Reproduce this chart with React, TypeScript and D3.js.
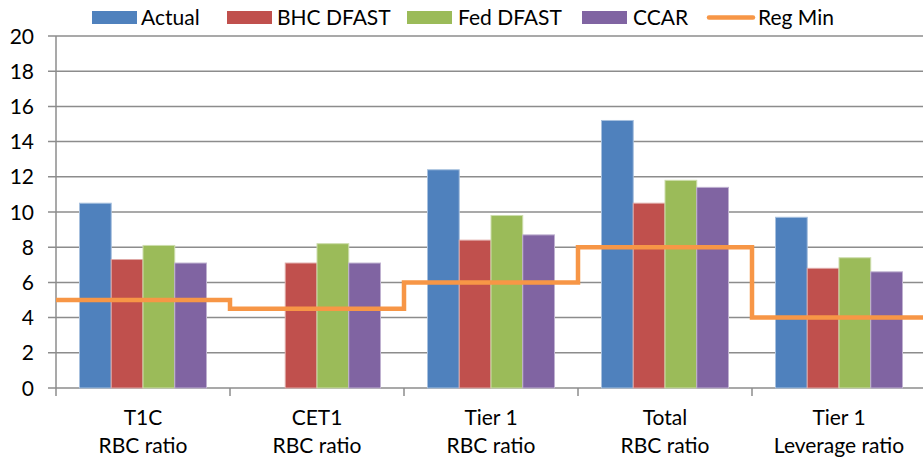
import React from "react";
import * as d3 from "d3";

const categories = ["T1C|RBC ratio", "CET1|RBC ratio", "Tier 1|RBC ratio", "Total|RBC ratio", "Tier 1|Leverage ratio"];
const seriesNames = ["Actual", "BHC DFAST", "Fed DFAST", "CCAR"];
const actual = [10.5, null, 12.4, 15.2, 9.7];
const bhcDfast = [7.3, 7.1, 8.4, 10.5, 6.8];
const fedDfast = [8.1, 8.2, 9.8, 11.8, 7.4];
const ccar = [7.1, 7.1, 8.7, 11.4, 6.6];
const regMin = [5, 4.5, 6, 8, 4];
const yTicks = [0, 2, 4, 6, 8, 10, 12, 14, 16, 18, 20];

const colors = ["#4F81BD", "#C0504D", "#9BBB59", "#8064A2"];
const strokes = ["#A7C0DE", "#DFA8A6", "#CDDDAC", "#BFB1D0"];
const lineColor = "#F79646";
const FONT = "Lato, 'Open Sans', sans-serif";

export default function App() {
  const W = 923, H = 459;
  const left = 56, right = 926, top = 36, bottom = 388;
  const x = d3.scaleBand<string>().domain(categories).range([left, right]).padding(0);
  const inner = d3.scaleBand<string>().domain(seriesNames).range([0, x.bandwidth()]).paddingInner(0).paddingOuter(0.74);
  const y = d3.scaleLinear().domain([0, 20]).range([bottom, top]);
  const data = [actual, bhcDfast, fedDfast, ccar];

  const linePts: [number, number][] = categories.map((c, i) => [x(c)!, y(regMin[i])]);
  linePts.push([right, y(regMin[regMin.length - 1])]);
  const line = d3.line().curve(d3.curveStepAfter)(linePts) || "";

  const legendItems = [
    { name: "Actual", rx: 92, tx: 141, type: "rect", color: colors[0] },
    { name: "BHC DFAST", rx: 227, tx: 277, type: "rect", color: colors[1] },
    { name: "Fed DFAST", rx: 407, tx: 458, type: "rect", color: colors[2] },
    { name: "CCAR", rx: 582, tx: 633, type: "rect", color: colors[3] },
    { name: "Reg Min", rx: 707, tx: 758, type: "line", color: lineColor },
  ];

  return (
    <svg width={W} height={H} style={{ position: "absolute", left: 0, top: 0, background: "#fff" }} fontFamily={FONT}>
      {/* gridlines */}
      {yTicks.map((t) => (
        <line key={t} x1={48} x2={right} y1={y(t)} y2={y(t)} stroke="#8C8C8C" strokeWidth={1.5} />
      ))}
      {/* y axis */}
      <line x1={left} x2={left} y1={top} y2={bottom} stroke="#8C8C8C" strokeWidth={1.5} />
      {/* x ticks */}
      {categories.map((c) => (
        <line key={c} x1={x(c)!} x2={x(c)!} y1={bottom} y2={bottom + 8} stroke="#8C8C8C" strokeWidth={1.5} />
      ))}
      {/* bars */}
      {data.map((vals, si) =>
        categories.map((c, ci) => {
          const v = vals[ci];
          if (v == null) return null;
          return (
            <rect
              key={si + "-" + ci}
              x={x(c)! + inner(seriesNames[si])!}
              y={y(v)}
              width={inner.bandwidth()}
              height={y(0) - y(v)}
              fill={colors[si]}
              stroke={strokes[si]}
              strokeWidth={1}
            />
          );
        })
      )}
      {/* reg min */}
      <path d={line} fill="none" stroke={lineColor} strokeWidth={4.5} />
      {/* y tick labels */}
      {yTicks.map((t) => (
        <text key={t} x={34} y={y(t)} dy="0.36em" textAnchor="end" fontSize={21} fill="#000">{t}</text>
      ))}
      {/* x labels */}
      {categories.map((c) => {
        const [a, b] = c.split("|");
        const cx = x(c)! + x.bandwidth() / 2;
        return (
          <text key={c} textAnchor="middle" fontSize={21} fill="#000">
            <tspan x={cx} y={425}>{a}</tspan>
            <tspan x={cx} y={453}>{b}</tspan>
          </text>
        );
      })}
      {/* legend */}
      {legendItems.map((it) => (
        <g key={it.name}>
          {it.type === "rect" ? (
            <rect x={it.rx} y={11} width={45} height={13} fill={it.color} />
          ) : (
            <line x1={it.rx + 2} x2={it.rx + 46} y1={17.5} y2={17.5} stroke={it.color} strokeWidth={4.5} strokeLinecap="round" />
          )}
          <text x={it.tx} y={25} fontSize={21} fill="#000">{it.name}</text>
        </g>
      ))}
    </svg>
  );
}
